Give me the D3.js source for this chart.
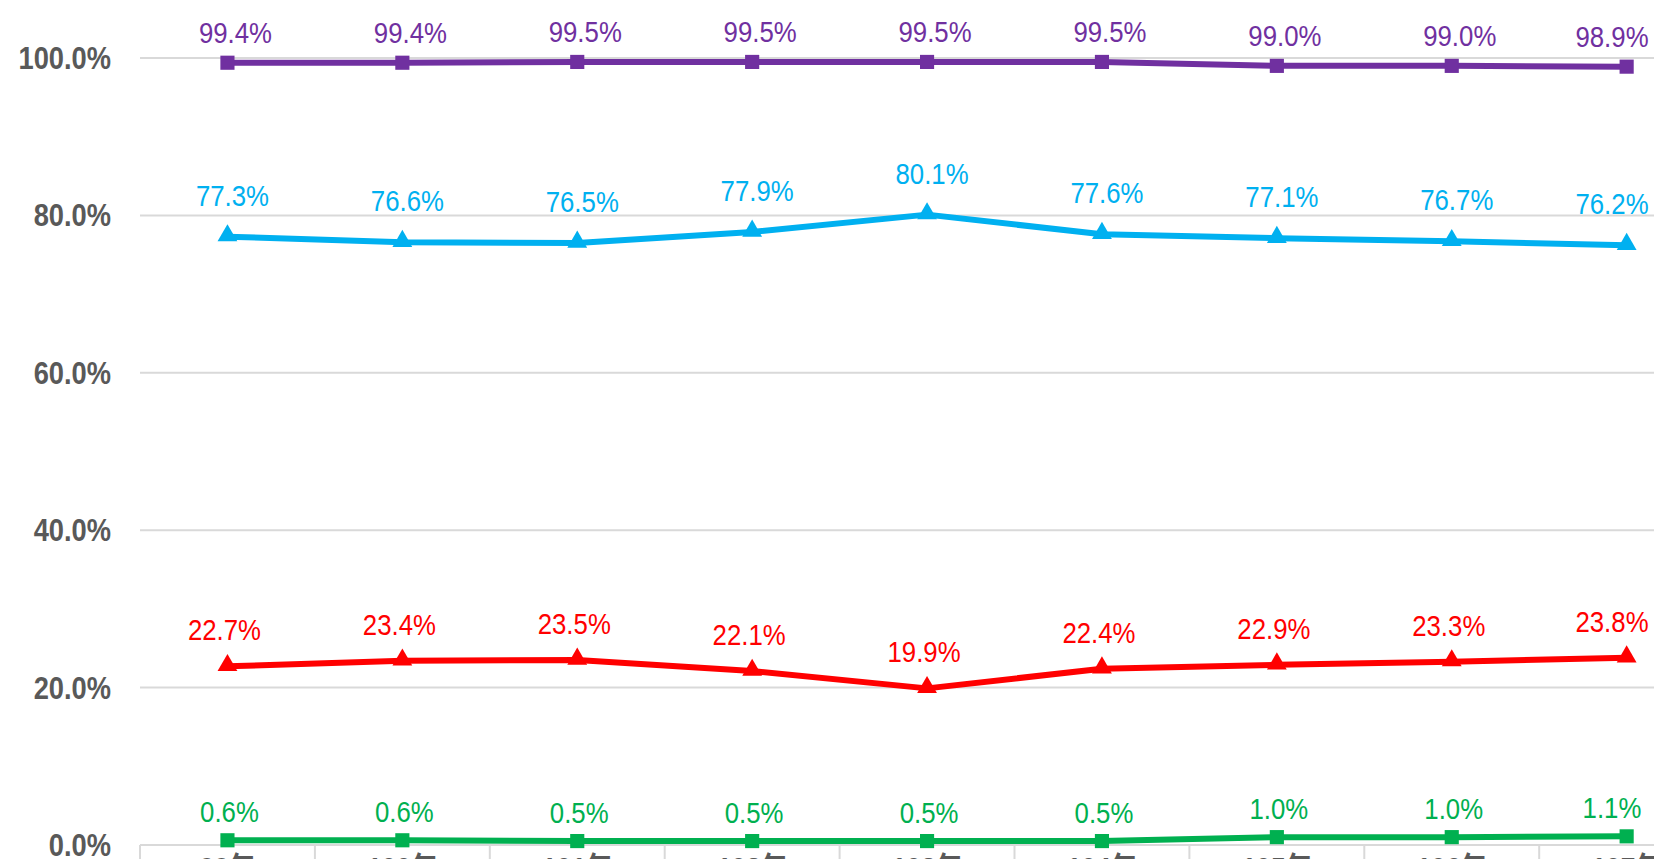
<!DOCTYPE html>
<html>
<head>
<meta charset="utf-8">
<script src="https://cdn.jsdelivr.net/npm/d3@7"></script>
<style>
  body { margin: 0; background: #fff; overflow: hidden; }
  text { font-family: "Liberation Sans", Arial, "Noto Sans CJK TC", sans-serif; }
</style>
</head>
<body>
<div id="chart"></div>
<script>
// data
const years = ["99年", "100年", "101年", "102年", "103年", "104年", "105年", "106年", "107年"];
const purpleVals = [99.4, 99.4, 99.5, 99.5, 99.5, 99.5, 99.0, 99.0, 98.9];
const blueVals   = [77.3, 76.6, 76.5, 77.9, 80.1, 77.6, 77.1, 76.7, 76.2];
const redVals    = [22.7, 23.4, 23.5, 22.1, 19.9, 22.4, 22.9, 23.3, 23.8];
const greenVals  = [0.6, 0.6, 0.5, 0.5, 0.5, 0.5, 1.0, 1.0, 1.1];
const yTicks = [0, 0.2, 0.4, 0.6, 0.8, 1.0];

const W = 1654, H = 859;
const series = [
  { vals: purpleVals, color: "#7030A0", marker: "square",   dy: -20, dx: 8 },
  { vals: blueVals,   color: "#00B0F0", marker: "triangle", dy: -31, dx: 5 },
  { vals: redVals,    color: "#FF0000", marker: "triangle", dy: -26, dx: -3 },
  { vals: greenVals,  color: "#00B050", marker: "square",   dy: -18, dx: 2 }
];

const svg = d3.select("#chart").append("svg")
  .attr("width", W)
  .attr("height", H);

// plot runs past the right edge, like the cropped original
const x = d3.scaleBand().domain(years).range([140, 140 + 9 * 174.9]).padding(0);
const y = d3.scaleLinear().domain([0, 1]).range([845, 58]);
const cx = d => x(d) + x.bandwidth() / 2;
const pct = d3.format(".1%");

// gridlines
svg.append("g").selectAll("line")
  .data(yTicks)
  .join("line")
  .attr("x1", 140)
  .attr("x2", W)
  .attr("y1", d => y(d))
  .attr("y2", d => y(d))
  .attr("stroke", "#d9d9d9")
  .attr("stroke-width", 2);

// y labels (squeezed to look like the narrow original font)
svg.append("g").selectAll("text")
  .data(yTicks)
  .join("text")
  .attr("transform", d => `translate(111,${y(d) + 11}) scale(0.88,1)`)
  .attr("text-anchor", "end")
  .attr("fill", "#595959")
  .attr("font-size", 31)
  .attr("font-weight", "bold")
  .text(d => pct(d));

// category boundary ticks
svg.append("g").selectAll("line")
  .data(years.concat([null]))
  .join("line")
  .attr("x1", (d, i) => 140 + i * x.step())
  .attr("x2", (d, i) => 140 + i * x.step())
  .attr("y1", 845)
  .attr("y2", 860)
  .attr("stroke", "#d9d9d9")
  .attr("stroke-width", 2);

// x labels (cut off at the bottom)
svg.append("g").selectAll("text")
  .data(years)
  .join("text")
  .attr("transform", d => `translate(${cx(d)},878) scale(0.88,1)`)
  .attr("text-anchor", "middle")
  .attr("fill", "#595959")
  .attr("font-size", 30)
  .attr("font-weight", "bold")
  .text(d => d);

const line = d3.line()
  .x((d, i) => cx(years[i]))
  .y(d => y(d / 100));

const sq = d3.symbol().type(d3.symbolSquare).size(200);
const tri = d3.symbol().type(d3.symbolTriangle).size(170);

series.forEach(s => {
  const g = svg.append("g");

  g.append("path")
    .datum(s.vals)
    .attr("d", line)
    .attr("fill", "none")
    .attr("stroke", s.color)
    .attr("stroke-width", 6)
    .attr("stroke-linejoin", "round");

  g.selectAll(".mk")
    .data(s.vals)
    .join("path")
    .attr("class", "mk")
    .attr("d", s.marker === "square" ? sq : tri)
    .attr("transform", (d, i) => `translate(${cx(years[i])},${y(d / 100) + (s.marker === "triangle" ? -1 : 0)})`)
    .attr("fill", s.color);

  g.selectAll(".lb")
    .data(s.vals)
    .join("text")
    .attr("class", "lb")
    .attr("transform", (d, i) => `translate(${Math.min(cx(years[i]) + s.dx, W - 42)},${y(d / 100) + s.dy}) scale(0.86,1)`)
    .attr("text-anchor", "middle")
    .attr("fill", s.color)
    .attr("font-size", 30)
    .text(d => d.toFixed(1) + "%");
});
</script>
</body>
</html>
